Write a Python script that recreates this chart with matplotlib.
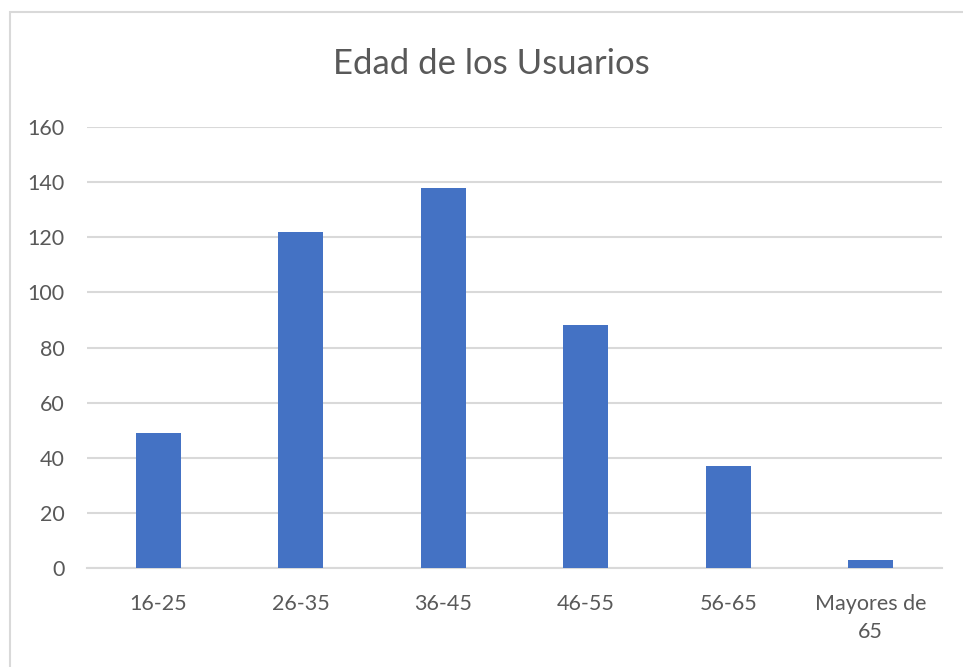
import matplotlib
matplotlib.use("Agg")
import matplotlib.pyplot as plt
from matplotlib.patches import Rectangle

categories = ["16-25", "26-35", "36-45", "46-55", "56-65", "Mayores de\n65"]
values = [49, 122, 138, 88, 37, 3]
yticks = [0, 20, 40, 60, 80, 100, 120, 140, 160]
title = "Edad de los Usuarios"

plt.rcParams['font.family'] = ['Lato', 'DejaVu Sans']
fig = plt.figure(figsize=(9.63, 6.67), dpi=100)
fig.patch.set_facecolor('white')

# chart border
fig.patches.append(Rectangle((10/963, -0.1), 1.2, 1 - 12/667 + 0.1, transform=fig.transFigure,
                             fill=False, edgecolor='#d9d9d9', linewidth=1.5, zorder=0))

ax = fig.add_axes([87/963, 1 - 568/667, (942 - 87)/963, (568 - 127)/667])
x = range(len(categories))
ax.bar(x, values, width=0.315, color='#4472c4', zorder=3)
ax.set_xlim(-0.5, len(categories) - 0.5)
ax.set_ylim(0, 160)
ax.set_yticks(yticks)
ax.set_xticks(list(x))
ax.set_xticklabels(categories, linespacing=1.45)
ax.grid(axis='y', color='#d9d9d9', linewidth=1.5, zorder=0)
for s in ['top', 'right', 'left']:
    ax.spines[s].set_visible(False)
ax.spines['bottom'].set_color('#d9d9d9')
ax.spines['bottom'].set_linewidth(1.5)
ax.tick_params(axis='both', length=0, colors='#595959', labelsize=15.5)
ax.tick_params(axis='y', pad=16)
ax.tick_params(axis='x', pad=19)
for lbl in ax.get_xticklabels() + ax.get_yticklabels():
    lbl.set_color('#595959')

fig.text(491/963, 1 - 64/667, title, ha='center', va='center', fontsize=25, color='#595959')

fig.savefig('out.png', dpi=100)
